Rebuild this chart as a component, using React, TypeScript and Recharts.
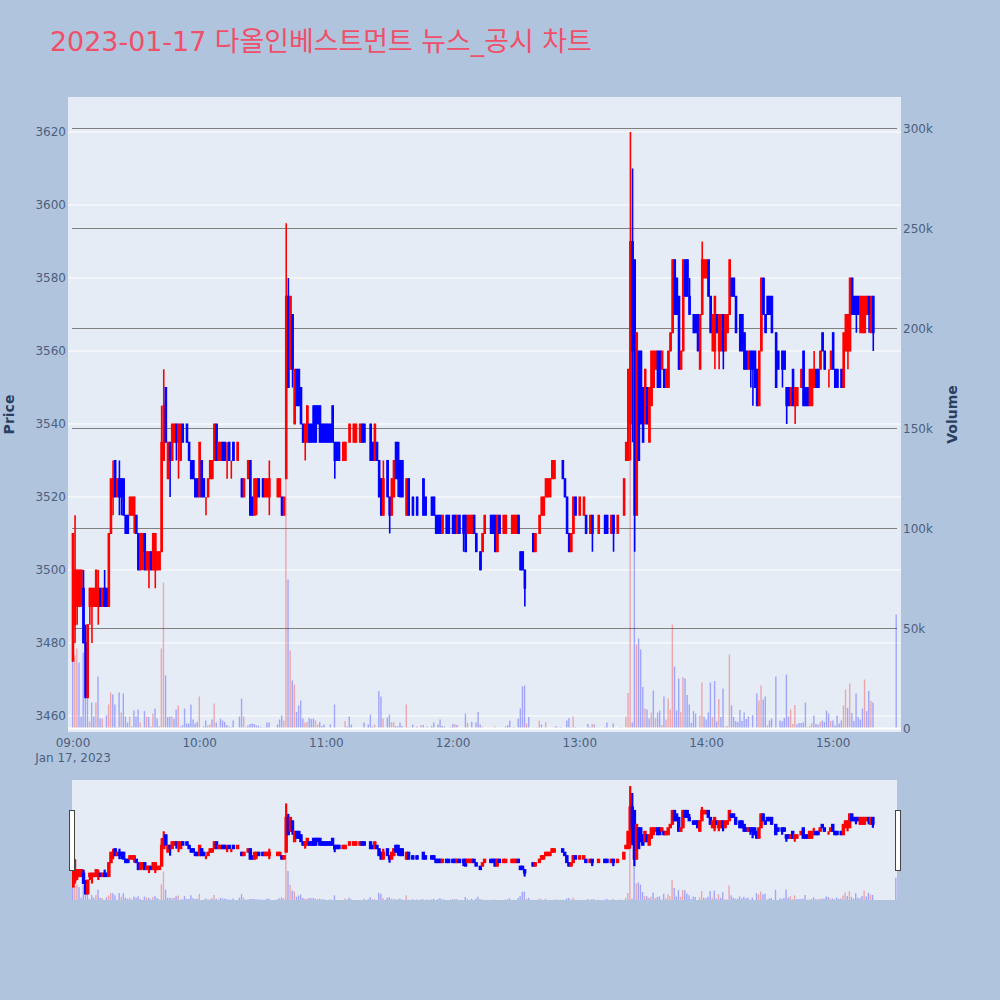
import { Bar, CartesianGrid, Cell, ComposedChart, ReferenceLine, XAxis, YAxis } from 'recharts';

// one slot per minute from 09:00, null where no trade printed
const opens = [
  3475,3485,3490,3490,3490,3495,3480,3465,3490,3490,
  3490,3490,3490,3495,3490,3495,3495,3490,3510,3520,
  3530,3520,3525,3525,3525,3515,3515,3515,3515,3515,
  3515,3510,3500,3505,3510,3500,3500,3505,3500,3500,
  3500,3500,3505,3530,3550,3525,3535,3530,3535,3540,
  3535,3530,3540,3535,3540,3535,3530,3530,3525,3525,
  3520,3530,3525,3520,3520,3525,3525,3530,3540,3530,
  3530,3535,3535,3530,3535,3530,3535,3535,3530,3530,
  3525,3520,null,3525,3530,3520,3515,3520,3525,null,
  3525,3520,3520,3520,3525,null,3525,3520,3520,3520,
  3515,3525,3575,3555,3570,3540,3555,3555,3550,3540,
  3535,3535,3540,3540,3545,3545,3545,3545,3540,3540,
  3540,3540,3540,3545,3535,3535,3535,3530,3530,3530,
  3535,3535,3535,3535,3535,3540,3535,3540,3540,3540,
  3535,3540,3535,3530,3535,3530,3525,3515,3525,3530,
  3520,3515,3520,3535,3535,3530,3530,3520,3515,3525,
  null,3520,3520,3520,null,3520,3525,3520,3515,3515,
  3520,3520,3515,3515,3515,3510,3515,3515,3515,3515,
  3515,3515,3510,3515,3515,3515,3515,3510,3510,3510,
  3515,3510,3505,3505,3505,3510,null,null,3515,3515,
  3515,3505,3515,null,3510,3510,3510,3510,3510,3510,
  3510,3515,3505,3505,3500,3500,3505,null,3510,3505,
  null,3510,3515,3515,3520,3520,3520,3525,3525,null,
  null,3530,3530,3525,3520,3510,3505,3510,3520,null,
  3515,3520,3515,3515,null,3510,3515,3510,null,3510,
  3510,null,3515,3515,null,3510,3515,null,3510,null,
  3520,3515,3530,3530,3540,3590,3585,3515,3560,3560,
  3550,3540,3550,3535,3545,3550,3555,3560,3560,3555,
  3555,3550,3550,3560,3565,3585,3580,3575,3555,3560,
  3585,3585,3575,3570,3570,3570,3570,3555,3570,3580,
  3580,3585,3575,3560,3560,3570,3560,3560,3570,3560,
  3565,3570,3580,3580,3575,3565,3570,3570,3565,3560,
  3555,3560,3560,3560,3555,3545,3560,3580,3570,3575,
  3575,3575,3565,3565,3560,3555,3560,3560,3550,3550,
  3545,3555,3545,3545,null,3550,3560,3550,3550,3545,
  3545,3550,3555,3555,3555,3565,3560,3555,3555,3555,
  3565,3555,3555,3550,3555,3550,3560,3560,3560,3580,
  3575,3575,3575,3565,3565,3565,3570,3575,3565,3575,
  null,null,null,null,null,null,null,null,null,null,
  3570,
];
const closes = [
  3510,3500,3500,3500,3500,3480,3465,3485,3495,3495,
  3495,3500,3495,3490,3495,3490,3490,3510,3525,3525,
  3520,3525,3520,3520,3515,3510,3510,3520,3520,3520,
  3510,3500,3510,3510,3500,3505,3505,3500,3510,3510,
  3505,3505,3535,3545,3535,3535,3530,3540,3540,3535,
  3540,3540,3535,3535,3535,3530,3525,3525,3520,3520,
  3535,3520,3520,3520,3525,3530,3530,3540,3530,3535,
  3535,3530,3530,3530,3530,3530,3530,3535,3535,3530,
  3520,3525,null,3530,3515,3515,3525,3525,3520,null,
  3520,3525,3525,3525,3525,null,3525,3525,3525,3515,
  3520,3575,3550,3575,3555,3555,3545,3545,3540,3535,
  3540,3545,3535,3535,3535,3535,3540,3535,3535,3535,
  3535,3535,3535,3535,3530,3530,3530,3530,3535,3535,
  3535,3540,3535,3540,3540,3540,3540,3535,3535,3540,
  3535,3530,3530,3540,3530,3520,3515,3525,3525,3520,
  3515,3525,3530,3525,3525,3520,3520,3520,3525,3515,
  null,3515,3520,3515,null,3520,3515,3515,3515,3515,
  3515,3515,3510,3510,3510,3515,3515,3510,3510,3515,
  3510,3510,3515,3510,3515,3510,3505,3515,3515,3515,
  3510,3505,3505,3500,3510,3515,null,null,3510,3510,
  3505,3515,3510,null,3515,3515,3510,3510,3515,3515,
  3515,3510,3500,3500,3495,3500,3505,null,3505,3510,
  null,3515,3520,3520,3525,3525,3525,3530,3530,null,
  null,3530,3525,3520,3510,3505,3510,3520,3515,null,
  3520,3520,3520,3510,null,3515,3510,3510,null,3515,
  3510,null,3510,3510,null,3515,3510,null,3515,null,
  3520,3525,3535,3555,3590,3560,3515,3565,3530,3540,
  3535,3555,3540,3550,3560,3560,3560,3550,3550,3560,
  3550,3555,3560,3565,3585,3570,3570,3555,3560,3585,
  3575,3575,3570,3570,3565,3565,3560,3570,3585,3585,
  3585,3575,3565,3570,3575,3565,3570,3570,3560,3570,
  3570,3585,3575,3575,3565,3565,3560,3560,3555,3555,
  3560,3555,3555,3550,3545,3560,3580,3570,3565,3570,
  3570,3565,3565,3550,3555,3555,3555,3555,3545,3545,
  3550,3545,3550,3550,null,3555,3545,3545,3545,3555,
  3555,3555,3550,3550,3560,3560,3555,3555,3555,3560,
  3555,3550,3550,3550,3550,3565,3570,3570,3580,3570,
  3570,3570,3570,3575,3575,3575,3575,3570,3575,3565,
  null,null,null,null,null,null,null,null,null,null,
  3570,
];
const highs = [
  3510,3515,3500,3500,3500,3500,3485,3485,3495,3495,
  3495,3500,3500,3495,3495,3500,3495,3510,3525,3530,
  3530,3525,3530,3525,3525,3515,3515,3520,3520,3520,
  3515,3510,3510,3510,3510,3505,3505,3505,3510,3510,
  3505,3505,3545,3555,3550,3535,3535,3540,3540,3540,
  3540,3540,3540,3535,3540,3535,3530,3530,3525,3525,
  3535,3530,3525,3520,3525,3530,3530,3540,3540,3535,
  3535,3535,3535,3535,3535,3530,3535,3535,3535,3530,
  3525,3525,null,3530,3530,3520,3525,3525,3525,null,
  3525,3525,3525,3530,3525,null,3525,3525,3525,3520,
  3520,3595,3580,3575,3570,3555,3555,3555,3550,3540,
  3540,3545,3540,3540,3545,3545,3545,3545,3540,3540,
  3540,3540,3540,3545,3535,3535,3535,3530,3535,3535,
  3535,3540,3535,3540,3540,3540,3540,3540,3540,3540,
  3535,3540,3535,3540,3535,3530,3525,3530,3525,3530,
  3520,3525,3530,3535,3535,3530,3530,3520,3525,3525,
  null,3520,3520,3520,null,3520,3525,3520,3515,3515,
  3520,3520,3515,3515,3515,3515,3515,3515,3515,3515,
  3515,3515,3515,3515,3515,3515,3515,3515,3515,3515,
  3515,3510,3505,3505,3510,3515,null,null,3515,3515,
  3515,3515,3515,null,3515,3515,3510,3510,3515,3515,
  3515,3515,3505,3505,3500,3500,3505,null,3510,3510,
  null,3515,3520,3520,3525,3525,3525,3530,3530,null,
  null,3530,3530,3525,3520,3510,3510,3520,3520,null,
  3520,3520,3520,3515,null,3515,3515,3510,null,3515,
  3510,null,3515,3515,null,3515,3515,null,3515,null,
  3520,3525,3535,3555,3620,3610,3585,3565,3560,3560,
  3550,3555,3550,3550,3560,3560,3560,3560,3560,3560,
  3555,3555,3560,3565,3585,3585,3580,3575,3560,3585,
  3585,3585,3580,3570,3570,3570,3570,3570,3590,3585,
  3585,3585,3575,3570,3575,3570,3570,3570,3570,3570,
  3570,3585,3580,3580,3575,3565,3570,3570,3565,3560,
  3560,3560,3560,3560,3555,3560,3580,3580,3570,3575,
  3575,3575,3565,3565,3560,3555,3560,3560,3550,3550,
  3550,3555,3550,3550,null,3555,3560,3550,3550,3555,
  3555,3560,3555,3555,3560,3565,3560,3555,3555,3560,
  3565,3555,3555,3550,3555,3565,3570,3570,3580,3580,
  3575,3575,3575,3575,3575,3575,3575,3575,3575,3575,
  null,null,null,null,null,null,null,null,null,null,
  3570,
];
const lows = [
  3475,3480,3485,3490,3490,3480,3465,3465,3485,3480,
  3490,3490,3485,3490,3490,3490,3490,3490,3510,3515,
  3520,3520,3515,3515,3515,3510,3510,3515,3515,3510,
  3510,3500,3500,3500,3500,3500,3495,3500,3500,3495,
  3500,3500,3505,3530,3535,3525,3520,3530,3535,3530,
  3525,3530,3535,3535,3535,3530,3525,3525,3520,3520,
  3520,3520,3520,3515,3520,3525,3525,3530,3530,3530,
  3530,3530,3530,3525,3530,3525,3530,3535,3530,3530,
  3520,3520,null,3525,3515,3515,3515,3515,3520,null,
  3520,3520,3520,3515,3525,null,3525,3520,3520,3515,
  3515,3525,3550,3555,3550,3540,3545,3545,3540,3535,
  3530,3535,3535,3535,3535,3535,3540,3535,3535,3535,
  3535,3535,3535,3535,3525,3530,3530,3530,3530,3530,
  3535,3535,3535,3535,3535,3540,3535,3535,3535,3540,
  3535,3530,3530,3530,3530,3520,3515,3515,3525,3520,
  3510,3515,3520,3525,3520,3520,3520,3520,3515,3515,
  null,3515,3520,3515,null,3520,3515,3515,3515,3515,
  3515,3515,3510,3510,3510,3510,3515,3510,3510,3515,
  3510,3510,3510,3510,3515,3505,3505,3510,3510,3510,
  3510,3505,3505,3500,3505,3510,null,null,3510,3510,
  3505,3505,3510,null,3510,3510,3510,3510,3510,3510,
  3510,3510,3500,3500,3490,3500,3505,null,3505,3505,
  null,3510,3515,3515,3520,3520,3520,3525,3525,null,
  null,3530,3525,3520,3510,3505,3505,3510,3515,null,
  3515,3520,3515,3510,null,3510,3505,3510,null,3510,
  3510,null,3510,3510,null,3510,3505,null,3510,null,
  3520,3515,3530,3530,3530,3535,3505,3515,3530,3540,
  3535,3540,3540,3535,3545,3550,3555,3550,3550,3555,
  3550,3550,3550,3560,3565,3570,3570,3555,3555,3560,
  3575,3575,3570,3570,3565,3565,3560,3555,3570,3580,
  3580,3575,3565,3560,3555,3565,3555,3560,3555,3560,
  3565,3570,3575,3575,3565,3565,3560,3560,3555,3555,
  3555,3550,3545,3550,3545,3545,3560,3570,3565,3570,
  3570,3565,3565,3550,3555,3555,3550,3555,3540,3545,
  3545,3545,3540,3545,null,3550,3545,3545,3545,3545,
  3545,3550,3550,3550,3555,3560,3555,3555,3550,3555,
  3555,3550,3550,3550,3550,3550,3560,3555,3560,3570,
  3570,3565,3570,3565,3565,3565,3570,3565,3565,3560,
  null,null,null,null,null,null,null,null,null,null,
  3570,
];
// thousands of shares
const volumes = [
  34.5,36.5,40,33,6,38,24,16,3.5,13,
  6,13,26,5,5,0.3,6.6,12,18,17,
  12,0.7,18,8,17.5,6,3,6,1,9,
  6,9.5,3,0.5,8.7,6,5.7,1,7.5,10,
  5,1,40,73,26.5,5.7,6,6,5,9.5,
  11.5,1,1.7,10,2.5,2.5,12,4.5,2.5,3.3,
  16,0,1,4,1.5,2,4.5,12.5,3,0.5,
  5,4,3.3,1.7,1,0.7,4,0,0.2,6,
  15,6,0.7,1.5,2.3,2.5,2.3,1.5,1.5,0.8,
  0.5,0.5,3,3,0,0,0,2,4.5,6.5,
  4,125,74.5,39,24,22,8.3,11.5,14,5,
  3,3.3,5.3,4.7,5,4,2,3.2,1.2,2,
  0,0,2,0,12,0,0,0,0,3.7,
  1,6,2,0,0,0.3,0.3,0,3,0,
  2,7,1,2,0,18.7,16,5,0,5.5,
  7,3.2,3.2,1.3,1,3,1.3,0,12,0.5,
  0,2,0,1,0,1.7,1.7,0,1,0,
  1.3,3,0,2,4.5,1.3,1,0,0,0.7,
  2.3,2.3,1.7,0,0,0,7.5,2.8,0,3.3,
  0,3,8.3,2,1,0,0.3,0,0.3,0,
  1,0,0,0,0,1,1.7,4,0,0.7,
  0,5,10,21,21.5,2.5,5.7,0,0.5,0,
  0.7,4,2,0,3.2,0,0,0,0.8,1.2,
  0,0.7,0,0,4,5.3,0.6,6,0.7,0,
  0,0.5,0,0,2.3,0.8,2.2,2,0,0.5,
  0,0,0.7,3,0,0,2.5,0,0,0.5,
  0.7,0,6,17.7,244,3,105,42,45,39.5,
  20.7,10,9.5,5,8,19,5.3,8,9,1.7,
  16,4.5,15,9.5,52,31,9,25,8.3,25.7,
  25,16.7,12,2.8,8.7,7.5,0,6.5,23,6,
  4.5,8,23,5.7,23.7,3.5,14.7,5.7,20,1,
  1.2,37,11.5,5.8,3.7,3.2,9.3,3.7,8,4.7,
  6,0,6.7,0,17.5,14,21.5,14.5,16,1.5,
  4,5,0,26,0,4,3.5,5.3,27,6,
  9.5,2.3,11.7,2,2.8,2.8,3,13,0.8,1.2,
  2.8,6.5,2.3,2,3.3,4,3.3,9,7.5,3.7,
  4,1.5,6.5,2.5,4,11.5,19.5,10.3,22.5,7.8,
  3.7,17.5,5.8,4.5,10,24.5,8.7,18.7,13.7,13,
  0,0,0,0,0,0,0,0,0,0,
  57,
];
const redVolumeMinutes = [
  1,2,8,11,14,17,18,21,23,27,32,35,38,42,43,47,50,60,64,65,67,81,100,101,103,105,110,111,115,116,
  129,143,147,151,152,158,165,181,187,194,200,215,220,221,224,228,237,246,260,262,263,264,267,271,
  274,276,279,281,282,283,284,288,289,297,298,303,306,309,310,311,325,326,329,340,341,342,348,349,
  350,354,359,365,366,368,375,378,
];
// flat minutes drawn in the falling colour
const blueFlatMinutes = [53, 79, 127, 140, 148, 157, 162, 179, 192, 206, 207, 293, 315, 332, 335, 357, 363, 390];
const hourTicks = [0, 60, 120, 180, 240, 300, 360];
const hourLabels = ['09:00', '10:00', '11:00', '12:00', '13:00', '14:00', '15:00'];
const priceTicks = [3460, 3480, 3500, 3520, 3540, 3560, 3580, 3600, 3620];
const volumeTicks = [0, 50, 100, 150, 200, 250, 300];
const volumeGridTicks = [50, 100, 150, 200, 250, 300];

const rows = volumes.map((volume, minute) => ({
  minute,
  volume,
  open: opens[minute],
  close: closes[minute],
  high: highs[minute],
  low: lows[minute],
}));

const RED = '#ff0000';
const BLUE = '#0000ff';
const INK = '#2a3f5f';
const tickFont = { fontFamily: '"DejaVu Sans", sans-serif', fontSize: 12, fill: '#4d5f7d' };

const wickRange = (d: any) => (d.open === null ? null : [d.low, d.high]);

function Candle(props: any) {
  const { x, y, width, height, payload, wickWidth, bodyWidth } = props;
  if (payload.open === null) return null;
  const { open, close, high, low, minute } = payload;
  const falling = close < open || blueFlatMinutes.includes(minute);
  const color = falling ? BLUE : RED;
  const perPrice = high > low ? Math.abs(height) / (high - low) : 0;
  const top = y + (high - Math.max(open, close)) * perPrice;
  const bodyHeight = Math.abs(open - close) * perPrice;
  const cx = x + width / 2;
  return (
    <g>
      <line x1={cx} x2={cx} y1={y} y2={y + height} stroke={color} strokeWidth={wickWidth} />
      <rect x={cx - bodyWidth / 2} y={top} width={bodyWidth} height={bodyHeight} fill={color} stroke={color} strokeWidth={1} />
    </g>
  );
}

function HourTick(props: any) {
  const { x, y, payload, index } = props;
  return (
    <g>
      <text x={x} y={y - 17} textAnchor="middle" {...tickFont}>
        {hourLabels[index] ?? payload.value}
      </text>
      {index === 0 && (
        <text x={x} y={y - 2} textAnchor="middle" {...tickFont}>
          Jan 17, 2023
        </text>
      )}
    </g>
  );
}

function volumeCells() {
  return rows.map((d) => (
    <Cell key={d.minute} fill={redVolumeMinutes.includes(d.minute) ? RED : BLUE} fillOpacity={0.3} />
  ));
}

export default function App() {
  return (
    <div style={{ position: 'absolute', left: 0, top: 0, width: 1000, height: 1000, background: '#b0c4de', overflow: 'hidden' }}>
      <div style={{ position: 'absolute', left: 50, top: 20, fontFamily: '"DejaVu Sans", "Noto Sans CJK KR", sans-serif', fontSize: 26.9, color: '#ef4f68', whiteSpace: 'nowrap' }}>
        2023-01-17 다올인베스트먼트 뉴스_공시 차트
      </div>

      <ComposedChart
        width={1000}
        height={780}
        data={rows}
        barGap={0}
        margin={{ top: 97, right: 59, bottom: 28, left: 8 }}
        style={{ position: 'absolute', left: 0, top: 0 }}
      >
        <CartesianGrid yAxisId="price" vertical={false} stroke="#ffffff" fill="#e5ecf6" syncWithTicks />
        <CartesianGrid yAxisId="volume" vertical={false} stroke="#808080" strokeWidth={1.2} x={72} width={825} syncWithTicks horizontalValues={volumeGridTicks} />
        <XAxis
          xAxisId="candles"
          type="number"
          dataKey="minute"
          domain={[-2.37, 392.1]}
          allowDataOverflow
          ticks={hourTicks}
          interval={0}
          axisLine={false}
          tickLine={false}
          tickSize={0}
          height={20}
          tick={<HourTick />}
        />
        <XAxis xAxisId="bars" type="number" dataKey="minute" domain={[-2.37, 392.1]} allowDataOverflow hide />
        <YAxis
          yAxisId="price"
          domain={[3455.6, 3629.6]}
          allowDataOverflow
          ticks={priceTicks}
          interval={0}
          width={60}
          axisLine={false}
          tickLine={false}
          tickSize={0}
          tickMargin={2}
          tick={tickFont}
          label={{ value: 'Price', angle: -90, position: 'insideLeft', offset: 1, style: { fontFamily: '"DejaVu Sans", sans-serif', fontSize: 14, fontWeight: 700, fill: INK, textAnchor: 'middle' } }}
        />
        <YAxis
          yAxisId="volume"
          orientation="right"
          domain={[-1.75, 315.75]}
          allowDataOverflow
          ticks={volumeTicks}
          interval={0}
          width={40}
          axisLine={false}
          tickLine={false}
          tickSize={0}
          tickMargin={2}
          tick={tickFont}
          tickFormatter={(v: number) => (v === 0 ? '0' : `${v}k`)}
          label={{ value: 'Volume', angle: -90, position: 'insideRight', offset: -11, style: { fontFamily: '"DejaVu Sans", sans-serif', fontSize: 14, fontWeight: 700, fill: INK, textAnchor: 'middle' } }}
        />
        <ReferenceLine xAxisId="bars" yAxisId="volume" y={0} stroke="#ffffff" strokeWidth={2} />
        <Bar xAxisId="bars" yAxisId="volume" dataKey="volume" barSize={1.4} isAnimationActive={false}>
          {volumeCells()}
        </Bar>
        <Bar
          xAxisId="candles"
          yAxisId="price"
          dataKey={wickRange}
          barSize={2}
          isAnimationActive={false}
          shape={(p: any) => <Candle {...p} wickWidth={1.6} bodyWidth={1.6} />}
        />
      </ComposedChart>

      <ComposedChart
        width={1000}
        height={120}
        data={rows}
        barGap={0}
        margin={{ top: 0, right: 103, bottom: 0, left: 72 }}
        style={{ position: 'absolute', left: 0, top: 780 }}
      >
        <CartesianGrid horizontal={false} vertical={false} fill="#e5ecf6" />
        <XAxis xAxisId="candles" type="number" dataKey="minute" domain={[-0.5, 390.4]} allowDataOverflow hide />
        <XAxis xAxisId="bars" type="number" dataKey="minute" domain={[-0.5, 390.4]} allowDataOverflow hide />
        <YAxis yAxisId="price" domain={[3456.4, 3628.6]} allowDataOverflow hide />
        <YAxis yAxisId="volume" orientation="right" domain={[0, 307]} allowDataOverflow hide />
        <Bar xAxisId="bars" yAxisId="volume" dataKey="volume" barSize={1.4} isAnimationActive={false}>
          {volumeCells()}
        </Bar>
        <Bar
          xAxisId="candles"
          yAxisId="price"
          dataKey={wickRange}
          barSize={2}
          isAnimationActive={false}
          shape={(p: any) => <Candle {...p} wickWidth={2.2} bodyWidth={2.4} />}
        />
      </ComposedChart>

      <div style={{ position: 'absolute', left: 69, top: 810, width: 3.5, height: 59, background: '#fff', border: '1px solid #444' }} />
      <div style={{ position: 'absolute', left: 895, top: 810, width: 3.5, height: 59, background: '#fff', border: '1px solid #444' }} />
    </div>
  );
}
